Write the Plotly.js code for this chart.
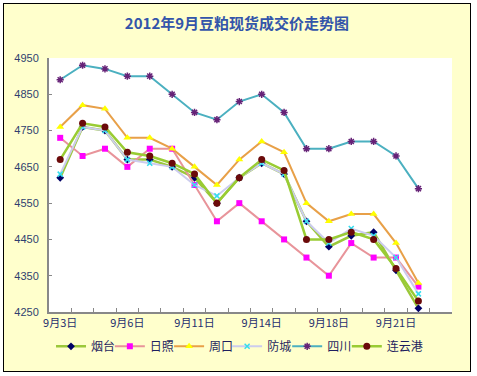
<!DOCTYPE html>
<html>
<head>
<meta charset="utf-8">
<script src="https://cdn.plot.ly/plotly-3.0.1.min.js"></script>
<style>
html,body{margin:0;padding:0;background:#ffffff;}
#frame{position:absolute;left:3px;top:3px;width:468px;height:369px;border:1px solid #000;box-sizing:border-box;background:#FFFFCC;}
#chart{width:466px;height:367px;}
</style>
</head>
<body>
<div id="frame"><div id="chart"></div></div>
<script>
// Categories (trading days, Sept 2012)
const dates = ['9月3日','9月4日','9月5日','9月6日','9月7日','9月10日','9月11日','9月12日','9月13日','9月14日','9月15日','9月17日','9月18日','9月19日','9月20日','9月21日','9月24日','9月25日'];
const shownLabels = ['9月3日','9月6日','9月11日','9月14日','9月18日','9月21日'];
const yTicks = [4250,4350,4450,4550,4650,4750,4850,4950];

// Series values (元/吨)
const yantai      = [4620,4760,4750,4670,4670,4650,4620,4550,4620,4660,4630,4500,4430,4460,4470,4365,4260];
const rizhao      = [4730,4680,4700,4650,4700,4700,4600,4500,4550,4500,4450,4400,4350,4440,4400,4400,4320];
const zhoukou     = [4760,4820,4810,4730,4730,4700,4650,4600,4670,4720,4690,4550,4500,4520,4520,4440,4330];
const fangcheng   = [4630,4760,4750,4670,4660,4650,4600,4570,4620,4660,4630,4500,4440,4480,4460,4400,4300];
const sichuan     = [4890,4930,4920,4900,4900,4850,4800,4780,4830,4850,4800,4700,4700,4720,4720,4680,4590];
const lianyungang = [4670,4770,4760,4690,4680,4660,4630,4550,4620,4670,4640,4450,4450,4470,4450,4370,4280];

const xs = dates.slice(0, yantai.length);

const traces = [
  {name:'烟台', y:yantai, line:{color:'#9BC83A', width:2.5}, marker:{symbol:'diamond', color:'#000066', size:6}},
  {name:'日照', y:rizhao, line:{color:'#E8949A', width:2}, marker:{symbol:'square', color:'#FF00FF', size:6}},
  {name:'周口', y:zhoukou, line:{color:'#E8A048', width:2}, marker:{symbol:'triangle-up', color:'#FFFF00', size:7}},
  {name:'防城', y:fangcheng, line:{color:'#CCCCEE', width:2}, marker:{symbol:'x-thin-open', color:'#33DDEE', size:5, line:{color:'#33DDEE', width:1.5}}},
  {name:'四川', y:sichuan, line:{color:'#4BB0C0', width:2}, marker:{symbol:'asterisk-open', color:'#662277', size:6, line:{color:'#662277', width:1.5}}},
  {name:'连云港', y:lianyungang, line:{color:'#99CC33', width:2.5}, marker:{symbol:'circle', color:'#6B0A0A', size:7}}
].map((t, i) => Object.assign({type:'scatter', mode:'lines+markers', x:xs, legend: i === 0 ? 'legend' : 'legend' + (i + 1)}, t));

const legendFont = {family:'"Noto Sans CJK SC", sans-serif', size:12, color:'#1F1F5F'};
const legendXs = [0.005, 0.151, 0.298, 0.442, 0.591, 0.739];

const layout = {
  width:466, height:367,
  paper_bgcolor:'#FFFFCC', plot_bgcolor:'#FFFFFF',
  margin:{l:45, r:18, t:54, b:59, autoexpand:false},
  title:{text:'2012年9月豆粕现货成交价走势图', x:0.5, xref:'container', xanchor:'center', y:1-20/367, yref:'container', yanchor:'middle',
         font:{family:'"Noto Sans CJK SC", sans-serif', size:15, color:'#3355AA', weight:'bold'}},
  xaxis:{type:'category', categoryorder:'array', categoryarray:dates, range:[-0.5, dates.length-0.5],
         tickmode:'array', tickvals:dates, ticktext:dates.map(d => shownLabels.includes(d) ? d : ''), tickangle:0,
         tickson:'boundaries', ticks:'inside', ticklen:4, tickwidth:1, tickcolor:'#888888',
         showline:true, linecolor:'#888888', linewidth:2, showgrid:false, zeroline:false,
         tickfont:{family:'"Noto Sans CJK SC", sans-serif', size:11, color:'#1F2F6F'}, fixedrange:true},
  yaxis:{range:[4250,4950], tickmode:'array', tickvals:yTicks, ticks:'inside', ticklen:3, tickwidth:1, tickcolor:'#888888',
         showline:true, linecolor:'#888888', linewidth:2, showgrid:false, zeroline:false, ticklabelstandoff:6,
         tickfont:{family:'"Liberation Sans", Arial, sans-serif', size:11, color:'#2F3F6F'}, fixedrange:true},
  showlegend:true,
};
legendXs.forEach((lx, i) => {
  layout[i === 0 ? 'legend' : 'legend' + (i + 1)] = {
    orientation:'h', x:lx, xref:'paper', xanchor:'left', y:-0.135, yanchor:'middle',
    bgcolor:'rgba(0,0,0,0)', font:legendFont, itemwidth:30, tracegroupgap:0
  };
});

Plotly.newPlot('chart', traces, layout, {displayModeBar:false, staticPlot:true});
</script>
</body>
</html>
